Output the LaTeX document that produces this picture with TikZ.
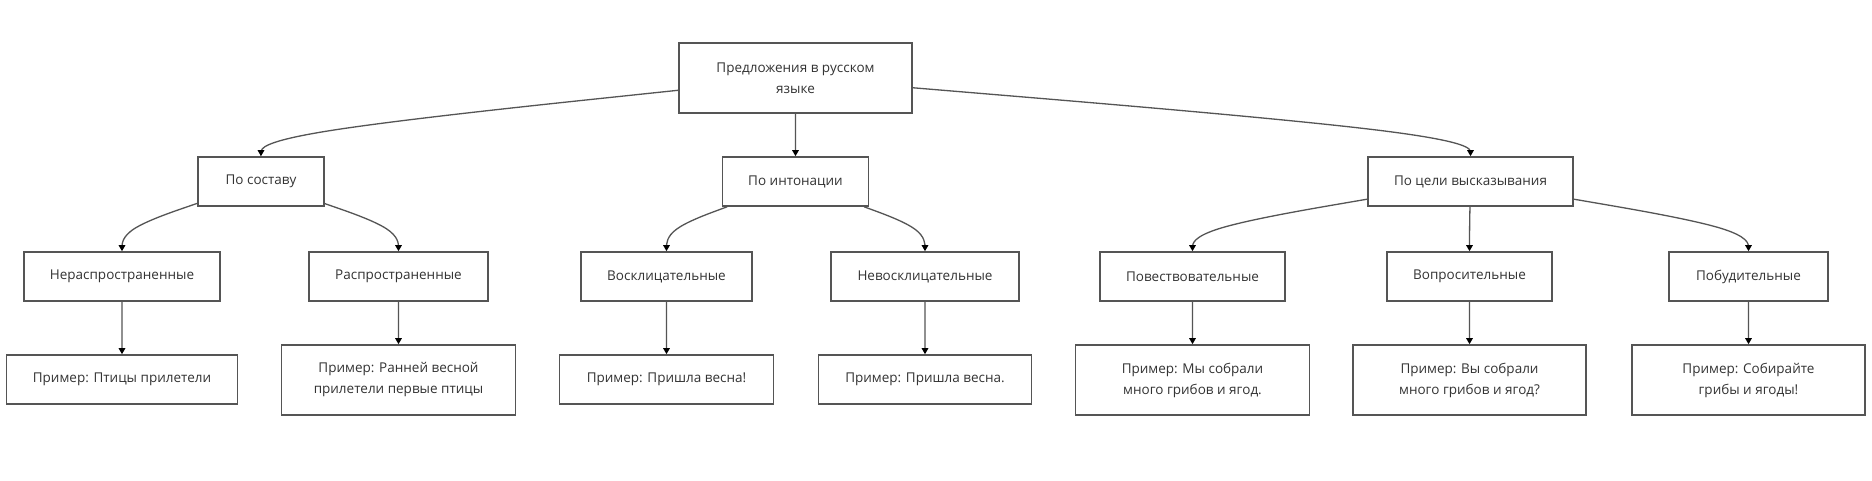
\documentclass[tikz,border=0pt]{standalone}
\usepackage{fontspec}
\setmainfont{Open Sans}
\usetikzlibrary{arrows.meta,calc}
\definecolor{linec}{HTML}{555555}
\definecolor{txtc}{HTML}{333333}
\tikzset{
  box/.style={draw=linec, line width=1.6pt, fill=white, rectangle, inner sep=0pt,
    align=center, font=\fontsize{13.5}{21}\selectfont, text=txtc},
  flowline/.style={draw=linec, line width=1.3pt, -{Triangle[length=6pt,width=6.5pt,color=black]}}
}
\newcommand\flowedge[2]{%
  \coordinate (Q1) at ([yshift=22pt]#2.north);
  \path (#1) -- (Q1) coordinate[pos=0] (Q0);
  \coordinate (Q2) at (#2.north);
  \draw[flowline] (Q0) -- ($(Q0)!0.16667!(Q1)$)
    .. controls ($(Q0)!0.33333!(Q1)$) and ($(Q0)!0.66667!(Q1)$) .. ($0.16667*(Q0)+0.66667*(Q1)+0.16667*(Q2)$)
    .. controls ($(Q1)!0.33333!(Q2)$) and ($(Q1)!0.66667!(Q2)$) .. ($(Q1)!0.83333!(Q2)$) -- (Q2);
}
\begin{document}
\begin{tikzpicture}[x=1pt, y=-1pt]
\useasboundingbox[fill=white] (0,0) rectangle (1872,480);
% root
\node[box, minimum width=233pt, minimum height=70pt] (root) at (795.5,78) {Предложения в русском\\языке};
% level 2
\node[box, minimum width=126pt, minimum height=49pt] (A) at (261,181.5) {По составу};
\node[box, minimum width=146pt, minimum height=49pt] (B) at (795.5,181.5) {По интонации};
\node[box, minimum width=205pt, minimum height=49pt] (C) at (1470.5,181.5) {По цели высказывания};
% level 3
\node[box, minimum width=196pt, minimum height=49pt] (A1) at (122,276.5) {Нераспространенные};
\node[box, minimum width=179pt, minimum height=49pt] (A2) at (398.5,276.5) {Распространенные};
\node[box, minimum width=171pt, minimum height=49pt] (B1) at (666.5,276.5) {Восклицательные};
\node[box, minimum width=188pt, minimum height=49pt] (B2) at (925,276.5) {Невосклицательные};
\node[box, minimum width=185pt, minimum height=49pt] (C1) at (1192.5,276.5) {Повествовательные};
\node[box, minimum width=165pt, minimum height=49pt] (C2) at (1469.5,276.5) {Вопросительные};
\node[box, minimum width=159pt, minimum height=49pt] (C3) at (1748.5,276.5) {Побудительные};
% level 4
\node[box, minimum width=231pt, minimum height=49pt] (A1e) at (122,379.5) {Пример: Птицы прилетели};
\node[box, minimum width=234pt, minimum height=70pt] (A2e) at (398.5,380) {Пример: Ранней весной\\прилетели первые птицы};
\node[box, minimum width=214pt, minimum height=49pt] (B1e) at (666.5,379.5) {Пример: Пришла весна!};
\node[box, minimum width=213pt, minimum height=49pt] (B2e) at (925,379.5) {Пример: Пришла весна.};
\node[box, minimum width=234pt, minimum height=70pt] (C1e) at (1192.5,380) {Пример: Мы собрали\\много грибов и ягод.};
\node[box, minimum width=233pt, minimum height=70pt] (C2e) at (1469.5,380) {Пример: Вы собрали\\много грибов и ягод?};
\node[box, minimum width=233pt, minimum height=70pt] (C3e) at (1748.5,380) {Пример: Собирайте\\грибы и ягоды!};
% connectors
\flowedge{root}{A}
\flowedge{root}{B}
\flowedge{root}{C}
\flowedge{A}{A1}
\flowedge{A}{A2}
\flowedge{B}{B1}
\flowedge{B}{B2}
\flowedge{C}{C1}
\flowedge{C}{C2}
\flowedge{C}{C3}
\flowedge{A1}{A1e}
\flowedge{A2}{A2e}
\flowedge{B1}{B1e}
\flowedge{B2}{B2e}
\flowedge{C1}{C1e}
\flowedge{C2}{C2e}
\flowedge{C3}{C3e}
\end{tikzpicture}
\end{document}
